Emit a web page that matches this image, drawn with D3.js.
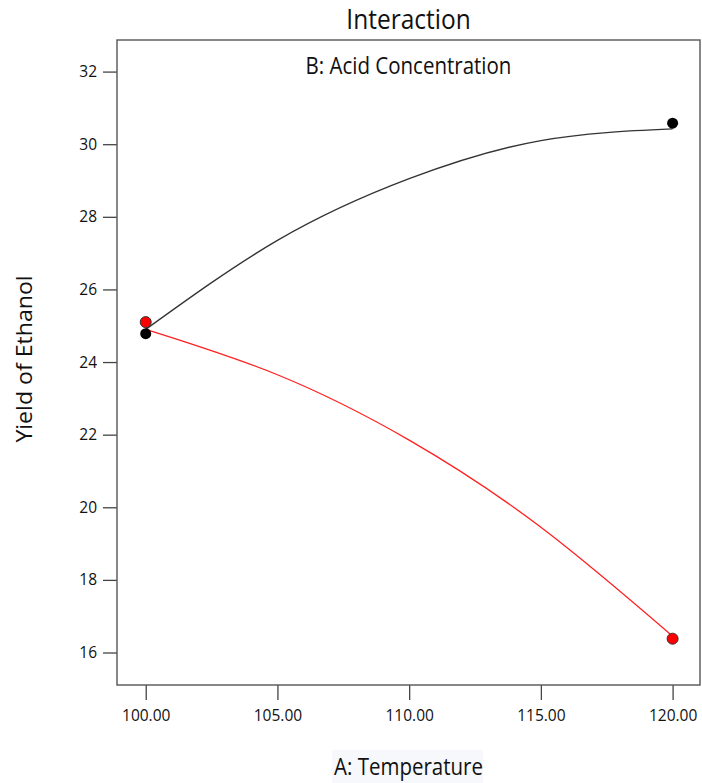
<!DOCTYPE html>
<html>
<head>
<meta charset="utf-8">
<script src="https://cdn.jsdelivr.net/npm/d3@7"></script>
<style>
  body { margin: 0; background: #fff; }
  text { font-family: "Open Sans", "Noto Sans", sans-serif; fill: #111; }
</style>
</head>
<body>
<div id="chart"></div>
<script>
// data
var temps = [100, 105, 110, 115, 120];
var lineHigh = [24.9, 27.35, 29.05, 30.1, 30.42];   // black curve
var lineLow = [24.9, 23.65, 21.85, 19.45, 16.45];   // red curve
var pointTemps = [100, 120];
var pointsHigh = [24.78, 30.58];
var pointsLow = [25.1, 16.38];
var yTicks = [16, 18, 20, 22, 24, 26, 28, 30, 32];
var xTicks = [100, 105, 110, 115, 120];

var svgWidth = 702;
var svgHeight = 783;

var margin = { top: 40, right: 2, bottom: 98, left: 117 };
var width = svgWidth - margin.left - margin.right;
var height = svgHeight - margin.top - margin.bottom;

var svg = d3.select("#chart")
  .append("svg")
  .attr("width", svgWidth)
  .attr("height", svgHeight);

var chartGroup = svg.append("g")
  .attr("transform", `translate(${margin.left}, ${margin.top})`);

var xScale = d3.scaleLinear()
  .domain([98.91, 121.04])
  .range([0, width]);

var yScale = d3.scaleLinear()
  .domain([15.105, 32.87])
  .range([height, 0]);

// axes, ticks outside the frame
var leftAxis = d3.axisLeft(yScale)
  .tickValues(yTicks)
  .tickFormat(d3.format("d"))
  .tickSize(14)
  .tickPadding(6);

var bottomAxis = d3.axisBottom(xScale)
  .tickValues(xTicks)
  .tickFormat(d3.format(".2f"))
  .tickSize(15)
  .tickPadding(10);

var yAxisG = chartGroup.append("g").call(leftAxis);
var xAxisG = chartGroup.append("g")
  .attr("transform", `translate(0, ${height})`)
  .call(bottomAxis);

[yAxisG, xAxisG].forEach(function(g) {
  g.select(".domain").remove();
  g.selectAll(".tick line").attr("stroke", "#444").attr("stroke-width", 1.3);
  g.selectAll(".tick text")
    .attr("font-size", "15.5px")
    .attr("font-family", "'Open Sans', sans-serif")
    .attr("fill", "#222");
});

// frame
chartGroup.append("rect")
  .attr("x", 0)
  .attr("y", 0)
  .attr("width", width)
  .attr("height", height)
  .attr("fill", "none")
  .attr("stroke", "#555")
  .attr("stroke-width", 1.4);

// curves
var lineGen = d3.line()
  .x((d, i) => xScale(temps[i]))
  .y(d => yScale(d))
  .curve(d3.curveNatural);

chartGroup.append("path")
  .datum(lineHigh)
  .attr("d", lineGen)
  .attr("fill", "none")
  .attr("stroke", "#333")
  .attr("stroke-width", 1.3);

chartGroup.append("path")
  .datum(lineLow)
  .attr("d", lineGen)
  .attr("fill", "none")
  .attr("stroke", "#ff2020")
  .attr("stroke-width", 1.3);

// points
chartGroup.selectAll(".ptLow")
  .data(pointsLow)
  .enter()
  .append("circle")
  .attr("class", "ptLow")
  .attr("cx", (d, i) => xScale(pointTemps[i]))
  .attr("cy", d => yScale(d))
  .attr("r", 5.5)
  .attr("fill", "#ff0000")
  .attr("stroke", "#333")
  .attr("stroke-width", 1);

chartGroup.selectAll(".ptHigh")
  .data(pointsHigh)
  .enter()
  .append("circle")
  .attr("class", "ptHigh")
  .attr("cx", (d, i) => xScale(pointTemps[i]))
  .attr("cy", d => yScale(d))
  .attr("r", 5.5)
  .attr("fill", "#000");

// titles (the original text looks a bit stretched vertically)
var cx = margin.left + width / 2;

svg.append("text")
  .attr("transform", `translate(${cx}, 29) scale(1, 1.08)`)
  .attr("text-anchor", "middle")
  .attr("font-size", "24.5px")
  .text("Interaction");

svg.append("text")
  .attr("transform", `translate(${cx}, 74) scale(1, 1.14)`)
  .attr("text-anchor", "middle")
  .attr("font-size", "20.5px")
  .text("B: Acid Concentration");

svg.append("rect")
  .attr("x", 332)
  .attr("y", 750)
  .attr("width", 151)
  .attr("height", 33)
  .attr("fill", "#f6f8fb");

svg.append("text")
  .attr("transform", `translate(${cx}, 775) scale(1, 1.12)`)
  .attr("text-anchor", "middle")
  .attr("font-size", "20.5px")
  .text("A: Temperature");

svg.append("text")
  .attr("transform", `translate(32, 359) rotate(-90) scale(1.1, 1)`)
  .attr("text-anchor", "middle")
  .attr("font-size", "21px")
  .text("Yield of Ethanol");
</script>
</body>
</html>
